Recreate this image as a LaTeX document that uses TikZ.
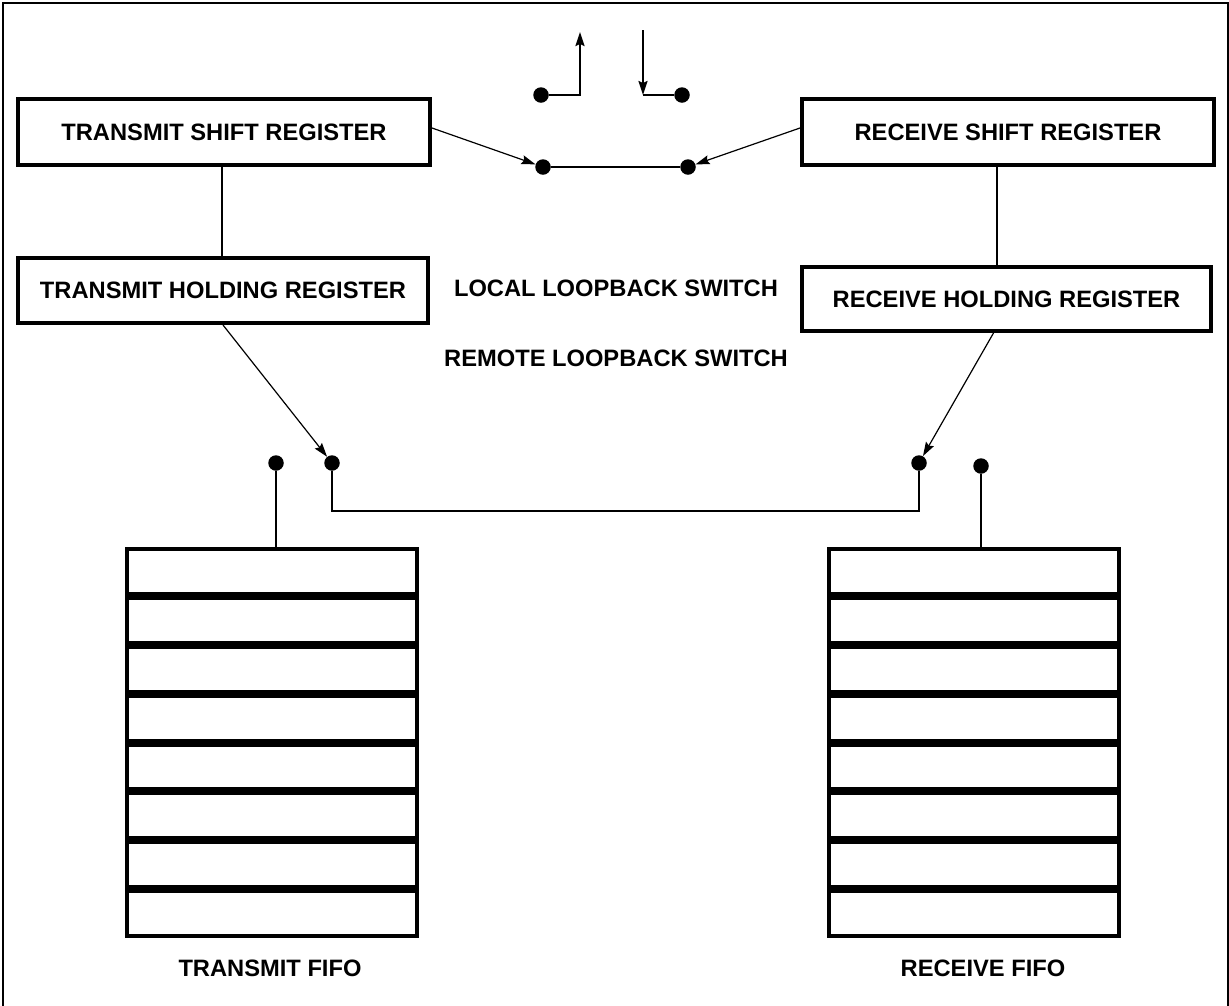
\documentclass[tikz,border=0pt]{standalone}
\usepackage{fontspec}
\setmainfont{Liberation Sans}
\usetikzlibrary{arrows.meta,calc}
\begin{document}
\begin{tikzpicture}[x=1pt,y=-1pt,
  reg/.style={draw,line width=4pt,inner sep=0pt,font=\fontsize{23.7}{28}\selectfont\bfseries},
  cell/.style={draw,line width=4pt,minimum width=290pt,minimum height=44.875pt,inner sep=0pt},
  dot/.style={circle,fill,inner sep=0pt,minimum size=15.5pt},
  wire/.style={line width=2pt},
  thinw/.style={line width=1.2pt},
  arr/.style={-{Stealth[length=14pt,width=9pt,inset=2pt]}},
  lbl/.style={font=\fontsize{23.7}{28}\selectfont\bfseries,inner sep=0pt}]
\useasboundingbox (0,0) rectangle (1229,1005);
\draw[line width=2pt] (2.5,1006) -- (2.5,2.5) -- (1227.5,2.5) -- (1227.5,1006);

% registers
\node[reg,minimum width=412pt,minimum height=66pt] (TSR) at (224,132) {TRANSMIT SHIFT REGISTER};
\node[reg,minimum width=410pt,minimum height=65pt] (THR) at (223,290.5) {TRANSMIT HOLDING REGISTER};
\node[reg,minimum width=412pt,minimum height=66pt] (RSR) at (1008,132) {RECEIVE SHIFT REGISTER};
\node[reg,minimum width=409pt,minimum height=64pt] (RHR) at (1006.5,299) {RECEIVE HOLDING REGISTER};

\coordinate (lx) at (222,0);
\coordinate (rx) at (997,0);
\draw[wire] (TSR.south -| lx) -- (THR.north -| lx);
\draw[wire] (RSR.south -| rx) -- (RHR.north -| rx);

% labels
\node[lbl] (LLS) at (616,288) {LOCAL LOOPBACK SWITCH};
\node[lbl] (RLS) at (616,358) {REMOTE LOOPBACK SWITCH};

% local loopback switch
\node[dot] (dTL) at (541,95) {};
\node[dot] (dTR) at (682,95) {};
\node[dot] (dBL) at (543,167) {};
\node[dot] (dBR) at (688,167) {};
\coordinate (upc) at (580,95);
\coordinate (upt) at (580,32);
\coordinate (dnt) at (643,30);
\coordinate (dnc) at (643,95);
\draw[wire,arr] (dTL) -- (upc) -- (upt);
\draw[wire,arr] (dnt) -- (dnc);
\draw[wire] (dnc) -- (dTR);
\draw[wire] (dBL) -- (dBR);
\draw[thinw,arr] ($(TSR.east)+(0,-4)$) -- (dBL);
\draw[thinw,arr] ($(RSR.west)+(0,-4)$) -- (dBR);

% remote loopback switch
\node[dot] (dA) at (276,463) {};
\node[dot] (dB) at (332,463) {};
\node[dot] (dC) at (919,463) {};
\node[dot] (dD) at (981,466) {};
\coordinate (rl) at (332,511);
\coordinate (rr) at (919,511);
\draw[thinw,arr] (THR.south) -- (dB);
\draw[thinw,arr] ($(RHR.south)+(-13,0)$) -- (dC);
\draw[wire] (dB) -- (rl) -- (rr) -- (dC);

% FIFOs
\foreach \i in {0,...,7} {
  \node[cell] (tx\i) at (272,{547+(\i+0.5)*48.875}) {};
  \node[cell] (rx\i) at (974,{547+(\i+0.5)*48.875}) {};
}
\draw[wire] (dA) -- (dA |- tx0.north);
\draw[wire] (dD) -- (dD |- rx0.north);

\node[lbl] (TXF) at (270,968) {TRANSMIT FIFO};
\node[lbl] (RXF) at (983,968) {RECEIVE FIFO};
\end{tikzpicture}
\end{document}
